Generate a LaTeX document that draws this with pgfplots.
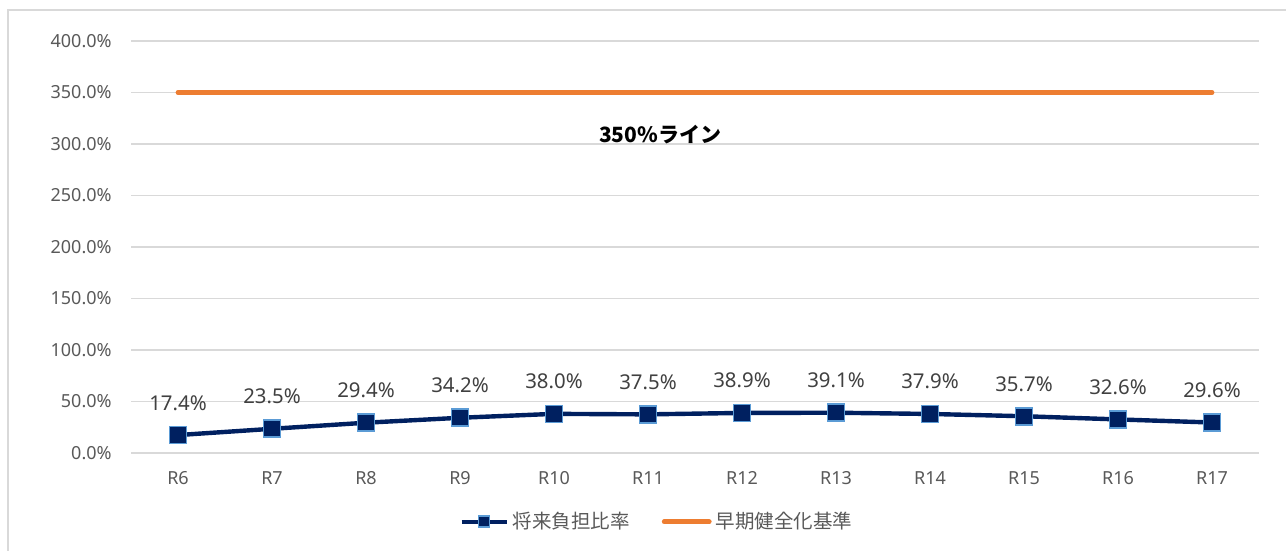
\documentclass[border=0pt]{standalone}
\usepackage{pgfplots}
\pgfplotsset{compat=1.18}
\usepackage{fontspec}
\setmainfont{Noto Sans}
\newfontfamily\jp{Noto Sans CJK JP}
\definecolor{navy}{HTML}{002060}
\definecolor{edgeblue}{HTML}{5B9BD5}
\definecolor{orangeL}{HTML}{ED7D31}
\definecolor{gridg}{HTML}{D9D9D9}
\definecolor{tickg}{HTML}{595959}
\definecolor{labg}{HTML}{404040}
\begin{document}
\begin{tikzpicture}
\path[use as bounding box] (0,0) rectangle (643pt,275.5pt);
\draw[gridg, line width=0.75pt] (4pt,0pt) -- (4pt,270.5pt) -- (643pt,270.5pt);
\begin{axis}[
  at={(65.5pt,49pt)}, anchor=south west, scale only axis,
  width=564pt, height=206pt,
  xmin=-0.5, xmax=11.5, ymin=0, ymax=400,
  xtick={0,...,11},
  xticklabels={R6,R7,R8,R9,R10,R11,R12,R13,R14,R15,R16,R17},
  ytick={0,50,...,400},
  /pgf/number format/assume math mode=true,
  yticklabel={\pgfmathprintnumber[fixed,fixed zerofill,precision=1]{\tick}\%},
  axis line style={draw=none},
  major tick length=0pt,
  ymajorgrids,
  major grid style={gridg, line width=0.75pt},
  ticklabel style={font=\fontsize{9}{11}\selectfont, text=tickg},
  yticklabel style={anchor=east, inner sep=0pt, xshift=-9.5pt},
  xticklabel style={anchor=base, inner sep=0pt, yshift=-16pt},
  clip=false,
  legend style={at={(0.467,-0.167)}, anchor=center, draw=none, fill=none,
    font=\jp\fontsize{9.75}{12}\selectfont, text=tickg, legend columns=2,
    /tikz/every even column/.append style={column sep=14pt}},
  legend cell align=left,
  legend image code/.code={\draw[mark repeat=2,mark phase=2,#1] plot coordinates {(0pt,0pt)(11.25pt,0pt)(22.5pt,0pt)};},
]
\addplot[navy, line width=2.2pt, mark=square*, mark size=4.25pt,
  mark options={solid, fill=navy, draw=edgeblue, line width=0.85pt},
  legend image post style={mark size=2.75pt},
  point meta=y,
  nodes near coords={\pgfmathprintnumber[fixed,fixed zerofill,precision=1]{\pgfplotspointmeta}\%},
  every node near coord/.append style={font=\fontsize{10.2}{12}\selectfont, text=labg, anchor=base, yshift=12.5pt}]
coordinates {(0,17.4)(1,23.5)(2,29.4)(3,34.2)(4,38.0)(5,37.5)(6,38.9)(7,39.1)(8,37.9)(9,35.7)(10,32.6)(11,29.6)};
\addlegendentry{将来負担比率}
\addplot[orangeL, line width=2.4pt, line cap=round] coordinates {(0,350)(11,350)};
\addlegendentry{早期健全化基準}
\node[font=\jp\bfseries\fontsize{10.5}{12}\selectfont, text=black] at (axis cs:5.13,309) {350\%ライン};
\end{axis}
\end{tikzpicture}
\end{document}
